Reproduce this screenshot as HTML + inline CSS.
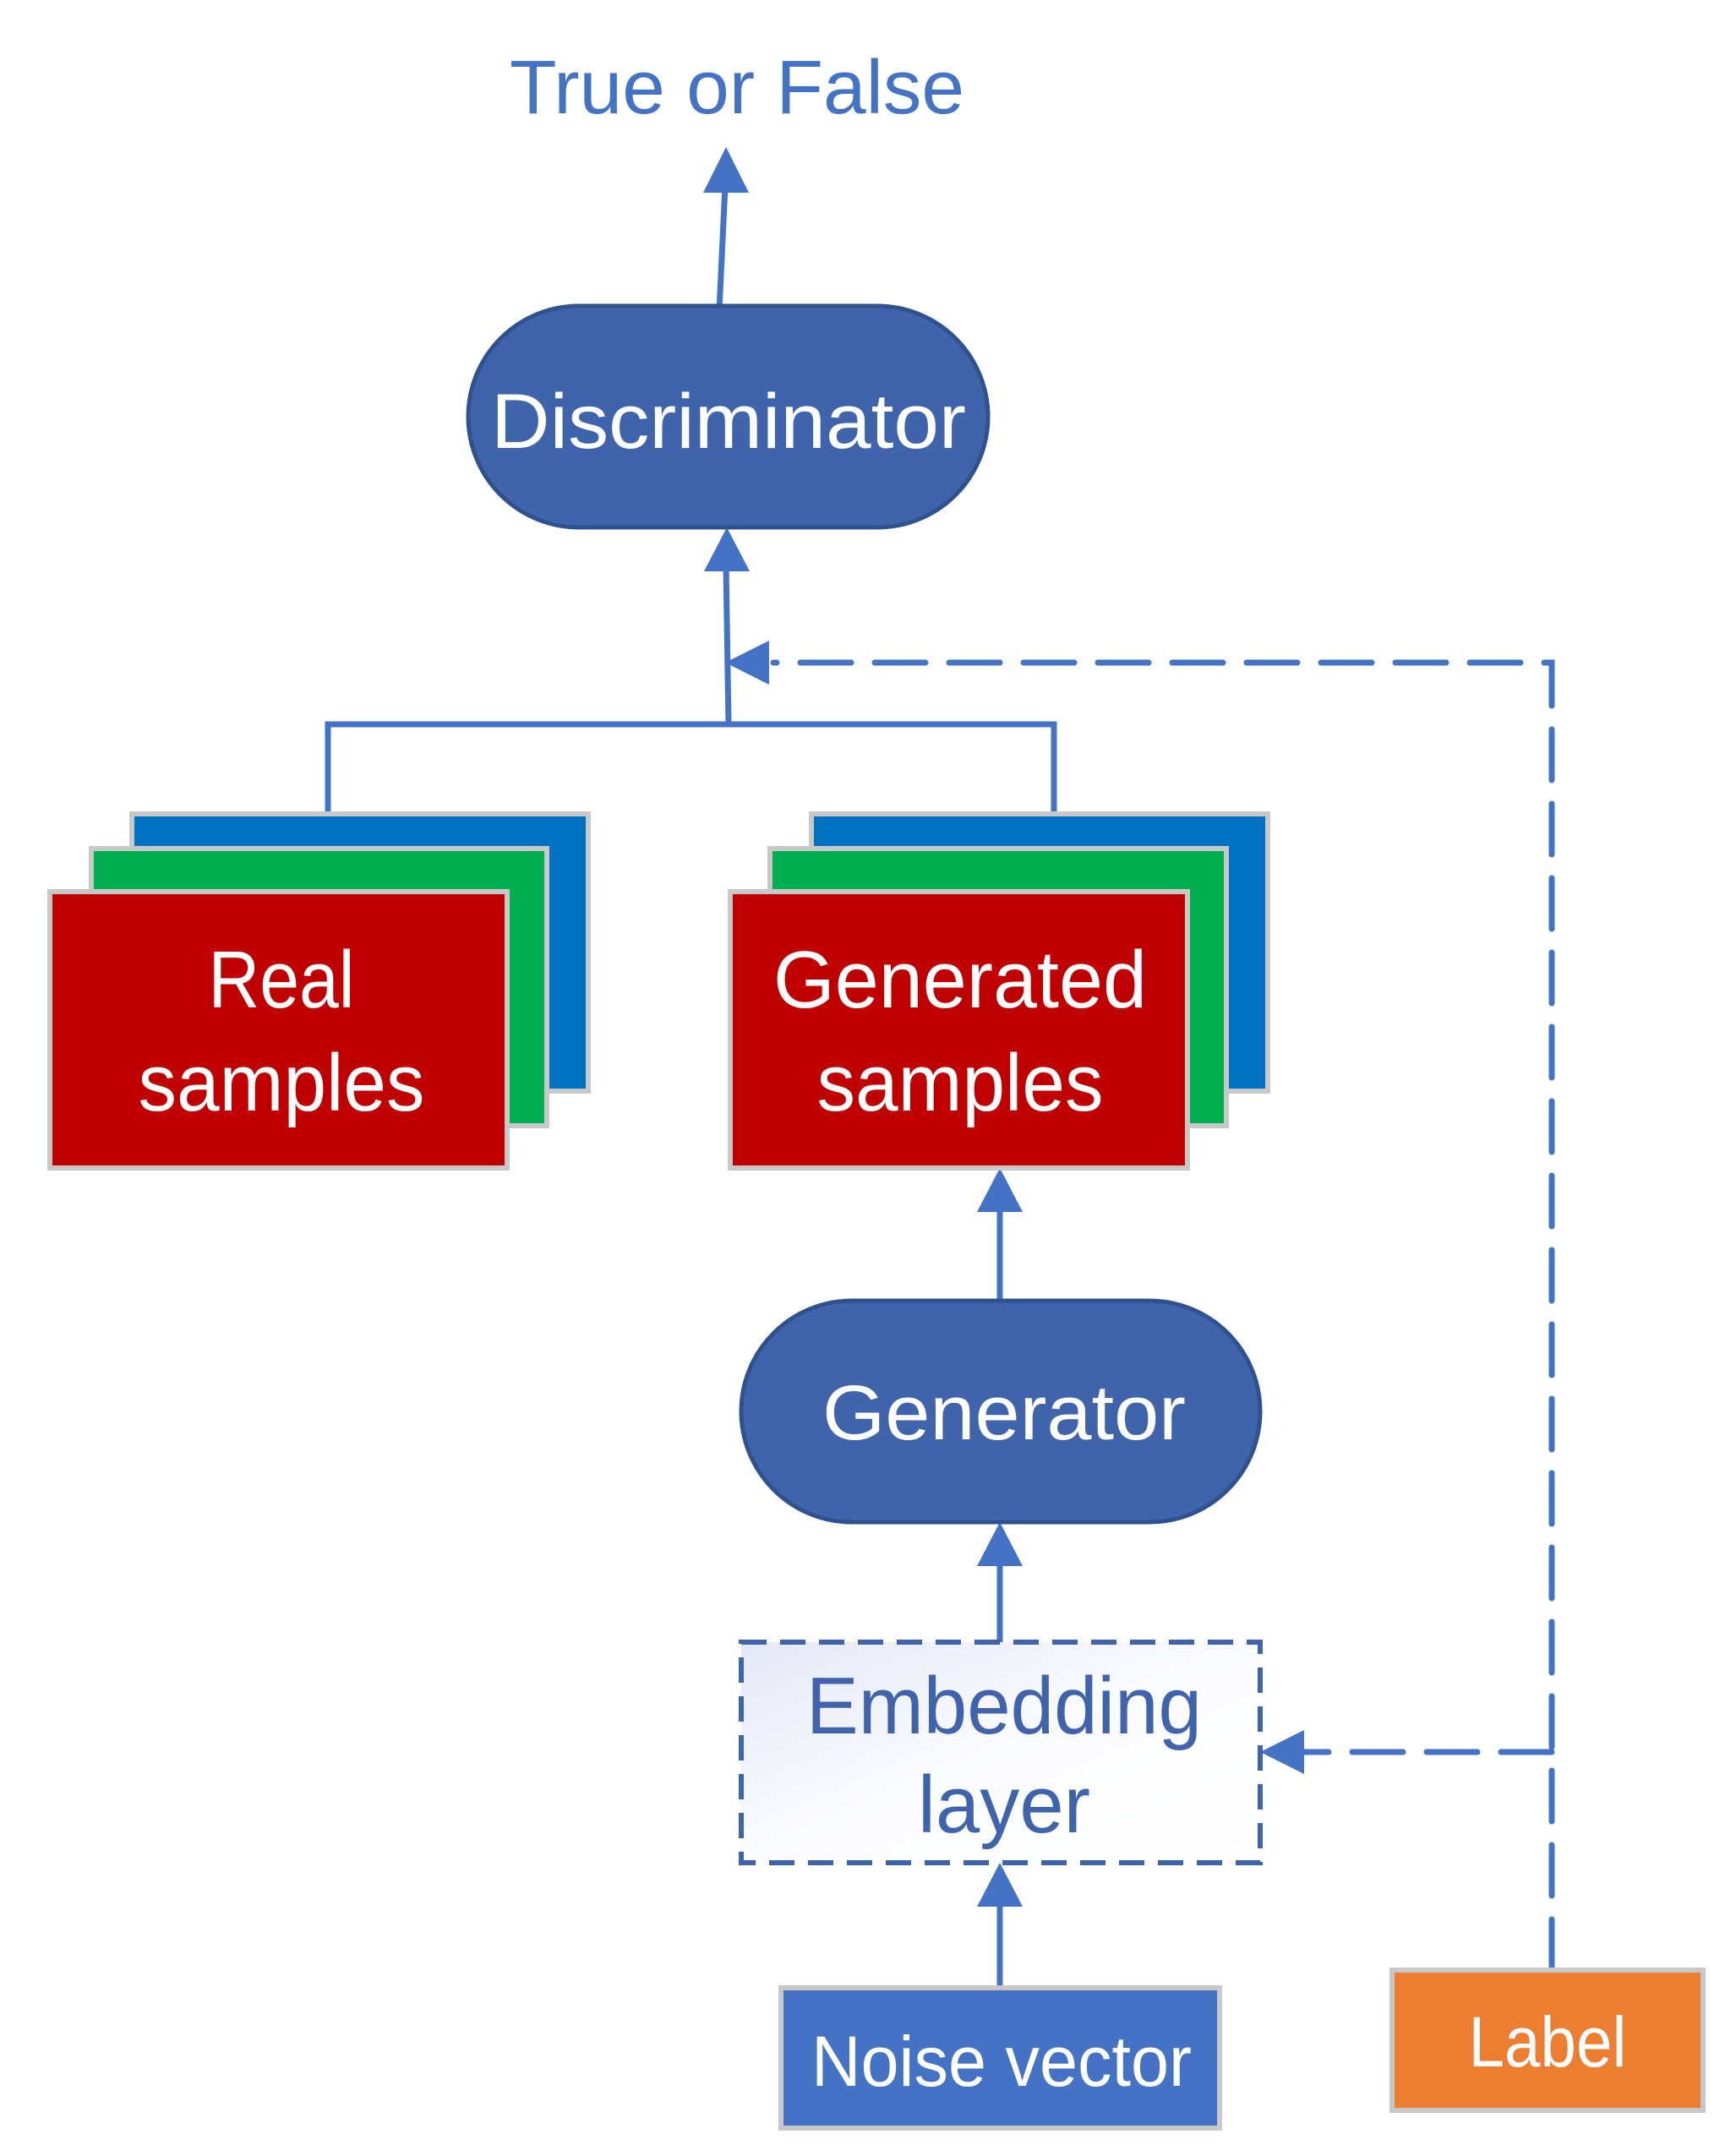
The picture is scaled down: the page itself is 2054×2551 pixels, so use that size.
<!DOCTYPE html>
<html><head><meta charset="utf-8"><style>html,body{margin:0;padding:0;background:#fff}svg{display:block}</style></head>
<body>
<svg width="2054" height="2551" viewBox="0 0 2054 2551" xmlns="http://www.w3.org/2000/svg" font-family="'Liberation Sans', sans-serif">
<defs>
<linearGradient id="eg" x1="0" y1="0" x2="1" y2="1">
<stop offset="0" stop-color="#e4e8f6"/><stop offset="0.5" stop-color="#fbfcff"/><stop offset="1" stop-color="#ffffff"/>
</linearGradient>
</defs>
<g stroke="#4472C4" stroke-width="7" fill="none">
<line x1="851" y1="367" x2="858" y2="220"/>
<line x1="862" y1="857" x2="859" y2="670"/>
<polyline points="388,967 388,857 1247,857 1247,967"/>
<line x1="1183" y1="1540" x2="1183" y2="1425"/>
<line x1="1183" y1="1943" x2="1183" y2="1845"/>
<line x1="1183" y1="2352" x2="1183" y2="2250"/>
<polyline points="1836,2331 1836,784 915,784" stroke-dasharray="60 28" stroke-linecap="round"/>
<polyline points="1836,2073 1535,2073" stroke-dasharray="60 28" stroke-linecap="round"/>
</g>
<g fill="#4472C4">
<polygon points="859,174 832,228 886,228"/>
<polygon points="860,624 833,676 887,676"/>
<polygon points="858,784 910,758 910,810"/>
<polygon points="1183,1382 1156,1434 1210,1434"/>
<polygon points="1183,1801 1156,1853 1210,1853"/>
<polygon points="1183,2204 1156,2256 1210,2256"/>
<polygon points="1491,2073 1543,2047 1543,2099"/>
</g>
<text x="872" y="134" font-size="90" fill="#4472C4" text-anchor="middle" textLength="538" lengthAdjust="spacingAndGlyphs">True or False</text>
<rect x="554" y="362" width="615" height="262" rx="131" fill="#3F64AC" stroke="#2F528F" stroke-width="5"/>
<text x="862" y="530" font-size="92" fill="#fff" text-anchor="middle" textLength="562" lengthAdjust="spacingAndGlyphs">Discriminator</text>
<g stroke="#C8C8C8" stroke-width="6">
<rect x="156" y="963" width="540" height="328" fill="#0070C0"/>
<rect x="108" y="1004" width="539" height="328" fill="#00B050"/>
<rect x="59" y="1055" width="541" height="327" fill="#C00000"/>
<rect x="960" y="963" width="540" height="328" fill="#0070C0"/>
<rect x="911" y="1004" width="540" height="328" fill="#00B050"/>
<rect x="864" y="1055" width="541" height="327" fill="#C00000"/>
<rect x="924" y="2352" width="519" height="166" fill="#4472C4"/>
<rect x="1647" y="2331" width="368" height="166" fill="#ED7D31"/>
</g>
<g fill="#fff" font-size="96" text-anchor="middle">
<text x="333" y="1192" textLength="173" lengthAdjust="spacingAndGlyphs">Real</text>
<text x="333" y="1314" textLength="339" lengthAdjust="spacingAndGlyphs">samples</text>
<text x="1136" y="1192" textLength="442" lengthAdjust="spacingAndGlyphs">Generated</text>
<text x="1136" y="1314" textLength="339" lengthAdjust="spacingAndGlyphs">samples</text>
</g>
<rect x="877" y="1539" width="614" height="262" rx="131" fill="#3F64AC" stroke="#2F528F" stroke-width="5"/>
<text x="1188" y="1703" font-size="92" fill="#fff" text-anchor="middle" textLength="430" lengthAdjust="spacingAndGlyphs">Generator</text>
<rect x="877" y="1943" width="614" height="261" fill="url(#eg)" stroke="#3F64AC" stroke-width="6" stroke-dasharray="30 16"/>
<text x="1188" y="2051" font-size="96" fill="#3F64AC" text-anchor="middle" textLength="468" lengthAdjust="spacingAndGlyphs">Embedding</text>
<text x="1188" y="2168" font-size="96" fill="#3F64AC" text-anchor="middle" textLength="204" lengthAdjust="spacingAndGlyphs">layer</text>
<text x="1185" y="2468" font-size="84" fill="#fff" text-anchor="middle" textLength="450" lengthAdjust="spacingAndGlyphs">Noise vector</text>
<text x="1831" y="2445" font-size="84" fill="#fff" text-anchor="middle" textLength="187" lengthAdjust="spacingAndGlyphs">Label</text>
</svg>
</body></html>
